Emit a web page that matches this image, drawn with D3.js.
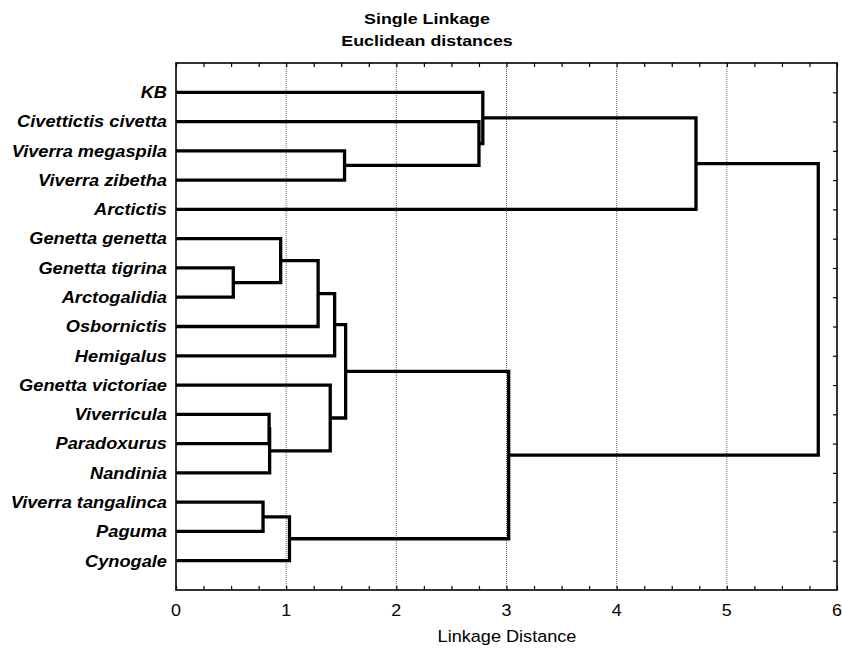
<!DOCTYPE html>
<html>
<head>
<meta charset="utf-8">
<script src="https://cdn.jsdelivr.net/npm/d3@7"></script>
<style>
  body { margin: 0; background: #fff; }
  svg { display: block; }
</style>
</head>
<body>
<svg id="chart" width="842" height="650"></svg>
<script>
// leaves, top to bottom as drawn
var leaves = ["KB", "Civettictis civetta", "Viverra megaspila", "Viverra zibetha",
  "Arctictis", "Genetta genetta", "Genetta tigrina", "Arctogalidia", "Osbornictis",
  "Hemigalus", "Genetta victoriae", "Viverricula", "Paradoxurus", "Nandinia",
  "Viverra tangalinca", "Paguma", "Cynogale"];

// linkage: node ids 0..16 are leaves, each merge gets id 17, 18, ...
var mergeA = [6, 14, 11, 19, 5, 18, 21, 10, 23, 2, 25, 1, 0, 27, 29, 31];
var mergeB = [7, 15, 12, 13, 17, 16, 8, 20, 9, 3, 24, 26, 28, 22, 4, 30];
var mergeH = [0.52, 0.79, 0.845, 0.85, 0.95, 1.03, 1.29, 1.40, 1.44, 1.53, 1.54,
  2.75, 2.785, 3.02, 4.72, 5.83];

var xTicks = [0, 1, 2, 3, 4, 5, 6];
var xTitle = "Linkage Distance";
var titleLines = ["Single Linkage", "Euclidean distances"];

var svg = d3.select("#chart");
var pLeft = 176, pRight = 837, pTop = 63, pBottom = 590;

var x = d3.scaleLinear().domain([0, 6]).range([pLeft, pRight]);
var y = d3.scalePoint().domain(leaves).range([pTop, pBottom]).padding(1);

// node positions
var nodeY = leaves.map(function(d) { return y(d); });
var nodeH = leaves.map(function() { return 0; });
mergeA.forEach(function(a, i) {
  var b = mergeB[i];
  nodeY.push((nodeY[a] + nodeY[b]) / 2);
  nodeH.push(mergeH[i]);
});

// grid
svg.append("g").selectAll("line")
  .data(xTicks.slice(1, -1))
  .enter().append("line")
  .attr("x1", function(d) { return x(d); })
  .attr("x2", function(d) { return x(d); })
  .attr("y1", pTop).attr("y2", pBottom)
  .attr("stroke", "#666")
  .attr("stroke-width", 1)
  .attr("stroke-dasharray", "1,1");

// minor ticks (inward) on top and bottom, row ticks on right
var minor = d3.range(0, 6.01, 0.25);
svg.append("g")
  .attr("transform", "translate(0," + pBottom + ")")
  .call(d3.axisBottom(x).tickValues(minor).tickSize(-4).tickFormat(""))
  .call(function(g) { g.select(".domain").remove(); });
svg.append("g")
  .attr("transform", "translate(0," + pTop + ")")
  .call(d3.axisTop(x).tickValues(minor).tickSize(-4).tickFormat(""))
  .call(function(g) { g.select(".domain").remove(); });
svg.append("g")
  .attr("transform", "translate(" + pRight + ",0)")
  .call(d3.axisRight(y).tickSize(-4).tickFormat(""))
  .call(function(g) { g.select(".domain").remove(); });
svg.selectAll(".tick line").attr("stroke", "#000").attr("stroke-width", 1.2);

// frame
svg.append("rect")
  .attr("x", pLeft).attr("y", pTop)
  .attr("width", pRight - pLeft).attr("height", pBottom - pTop)
  .attr("fill", "none")
  .attr("stroke", "#000")
  .attr("stroke-width", 1.6);

// dendrogram links
svg.append("g").selectAll("path")
  .data(mergeA.map(function(a, i) { return [a, mergeB[i], leaves.length + i]; }))
  .enter().append("path")
  .attr("d", function(d) {
    var a = d[0], b = d[1], m = d[2];
    return "M" + x(nodeH[a]) + "," + nodeY[a] +
      "H" + x(nodeH[m]) + "V" + nodeY[b] + "H" + x(nodeH[b]);
  })
  .attr("fill", "none")
  .attr("stroke", "#000")
  .attr("stroke-width", 3.3)
  .attr("stroke-linejoin", "miter");

// the reference fonts are a bit stretched sideways
function stretchText(g, tx, ty, str, anchor, weight, style, size, sx) {
  g.append("text")
    .attr("transform", "translate(" + tx + "," + ty + ") scale(" + sx + ",1)")
    .attr("text-anchor", anchor)
    .style("font-family", "'Liberation Sans', Arial, sans-serif")
    .style("font-size", size + "px")
    .style("font-weight", weight)
    .style("font-style", style)
    .attr("fill", "#000")
    .text(str);
}

// leaf labels
var lab = svg.append("g");
leaves.forEach(function(d) {
  stretchText(lab, pLeft - 9, y(d) + 5.8, d, "end", "bold", "italic", 16, 1.14);
});

// x tick labels
var tl = svg.append("g");
xTicks.forEach(function(d) {
  stretchText(tl, x(d), pBottom + 26, d, "middle", "normal", "normal", 17, 1.05);
});
stretchText(svg, 507, 642, xTitle, "middle", "normal", "normal", 17, 1.066);

// title
stretchText(svg, 427, 24, titleLines[0], "middle", "bold", "normal", 15, 1.19);
stretchText(svg, 427, 46, titleLines[1], "middle", "bold", "normal", 15, 1.19);
</script>
</body>
</html>
